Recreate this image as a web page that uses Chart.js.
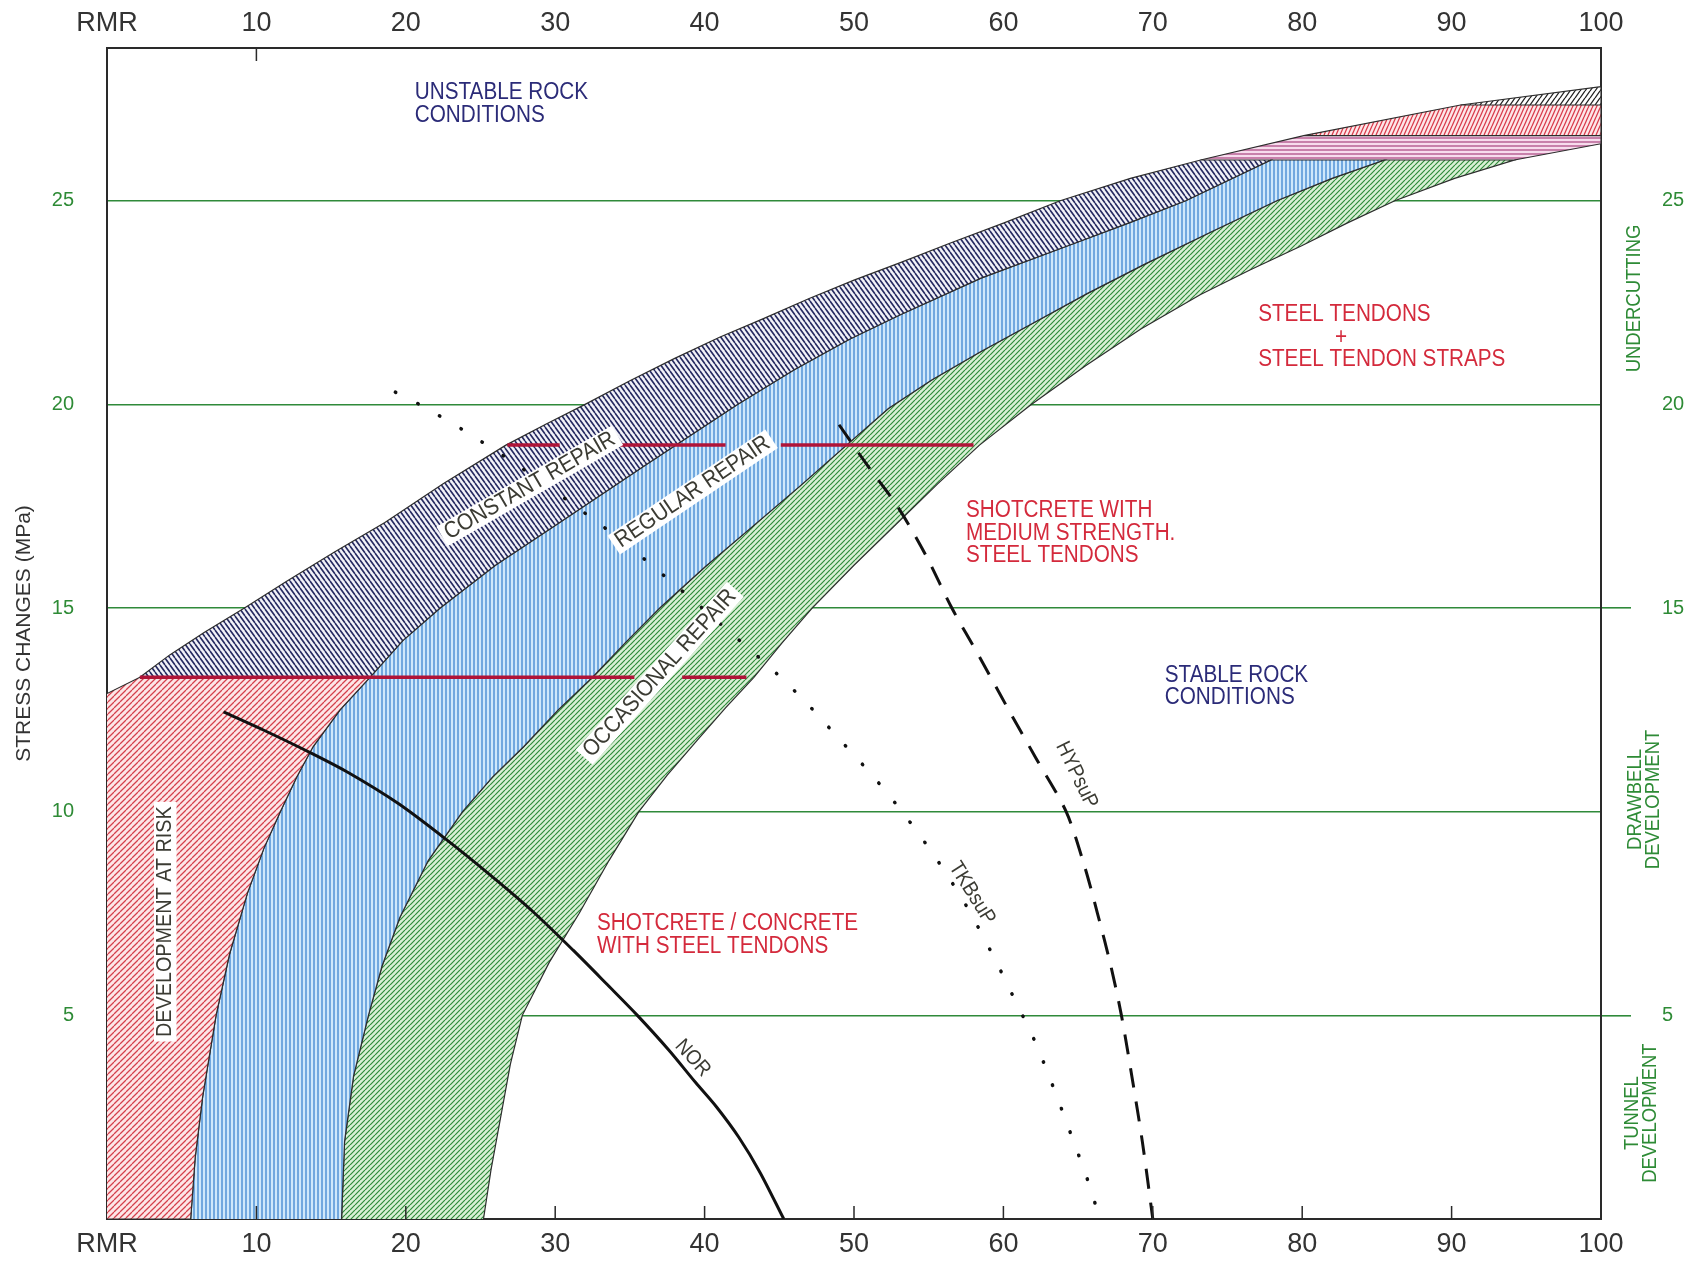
<!DOCTYPE html>
<html>
<head>
<meta charset="utf-8">
<script src="https://cdn.jsdelivr.net/npm/chart.js@4.4.1/dist/chart.umd.min.js"></script>
<style>
  html, body { margin: 0; padding: 0; background: #ffffff; }
  canvas { display: block; }
</style>
</head>
<body>
<canvas id="chart" width="1696" height="1264"></canvas>
<script>
// ---- axes ----
const rmrTicks = [0, 10, 20, 30, 40, 50, 60, 70, 80, 90, 100];
const stressTicks = [5, 10, 15, 20, 25];
const rightStressTicks = [5, 15, 20, 25];
const activityBreaks = [5, 15];
const innerTickRmr = [10, 20, 30, 40, 50, 60, 70, 80, 90];
const topTickRmr = [10];
const stressMax = 28.75;

// ---- zone boundaries [RMR, stress MPa] ----
// upper edge of the constant repair band (plus the cap of the development-at-risk zone)
const constantRepairTop = [[0, 12.9], [2.2, 13.3], [4.2, 13.85], [6.5, 14.4], [9.2, 15.0], [12, 15.65],
  [15.2, 16.37], [18.6, 17.1], [22.5, 18.05], [26.7, 19.0], [29.4, 19.52], [32, 20.0], [35, 20.58],
  [38, 21.13], [41, 21.65], [43.9, 22.1], [47, 22.6], [50, 23.05], [53.1, 23.48], [56.5, 23.97],
  [60, 24.45], [63.8, 25.0], [68.5, 25.55], [73.2, 26.0], [80.1, 26.6], [90.6, 27.35], [100, 27.8]];
// lower edge of constant repair / development at risk, upper edge of regular repair
const regularRepairEdge = [[5.6, 0], [5.9, 1.5], [6.4, 3.0], [7.3, 5.0], [8.2, 6.5], [9.4, 8.0],
  [10.5, 9.1], [11.6, 10.0], [12.7, 10.85], [13.8, 11.6], [15.6, 12.5], [17.6, 13.3], [19.8, 14.2],
  [22.3, 15.0], [26, 16.05], [30.3, 17.1], [36, 18.5], [42.2, 20.0], [46, 20.85], [49.7, 21.6],
  [53.1, 22.2], [58.5, 23.1], [64.5, 23.92], [68.5, 24.47], [72.2, 25.0], [77.9, 26.0]];
// lower edge of regular repair, upper edge of occasional repair
const occasionalRepairEdge = [[15.7, 0], [15.9, 1.9], [16.5, 3.5], [17.5, 5.0], [18.4, 6.2], [19.6, 7.4],
  [21.5, 8.8], [23.8, 10.0], [25.8, 10.85], [27.9, 11.6], [30.2, 12.5], [32.5, 13.3], [34.7, 14.15],
  [37, 15.0], [40, 16.0], [43.2, 17.0], [46.4, 18.0], [49.5, 19.0], [52.3, 19.9], [55.2, 20.6],
  [58.5, 21.3], [62, 22.0], [65.6, 22.72], [69.5, 23.45], [74, 24.25], [78.3, 25.0], [82, 25.55],
  [85.5, 26.0]];
// lower limit of occasional repair (stable ground beyond)
const occasionalRepairLimit = [[25.2, 0], [25.7, 1.2], [26.4, 2.6], [27.0, 3.8], [27.8, 5.0], [29.6, 6.3],
  [31.6, 7.5], [33.6, 8.8], [35.6, 10.0], [37.5, 10.9], [39.5, 11.75], [41.4, 12.55], [43.3, 13.3],
  [45.2, 14.15], [47.2, 15.0], [50, 16.05], [52.8, 17.05], [55.6, 18.05], [58.4, 19.0], [61.8, 19.98],
  [65.5, 20.95], [69.2, 21.85], [73.2, 22.7], [76.5, 23.3], [80, 23.9], [83, 24.45], [86.2, 25.0],
  [90.2, 25.55], [94.2, 26.0], [100, 26.4]];

const lowerSupportLevel = 13.3;
const capLevels = [26.0, 26.6, 27.35];
const rmrMax = 100;

// support class limits (red lines)
const lowerSupportSpans = [[2.2, 35.3], [38.5, 42.8]];
const upperSupportLevel = 19.0;
const upperSupportSpans = [[26.8, 30.3], [34.3, 41.4], [45.1, 58.0]];

// support performance curves
const norCurve = [[7.8, 12.45], [10.5, 12.0], [13.6, 11.45], [16.2, 10.95], [19.5, 10.2], [22.7, 9.32],
  [25.8, 8.4], [28.5, 7.55], [31.2, 6.6], [33.5, 5.75], [35.5, 5.0], [37.6, 4.15], [39.4, 3.35],
  [40.8, 2.75], [42.3, 2.0], [43.7, 1.15], [45.3, 0]];
const tkbCurve = [[19.3, 20.3], [20.9, 20.0], [23.8, 19.38], [27.9, 18.4], [32.1, 17.3], [34.8, 16.55],
  [37.4, 15.76], [41.1, 14.6], [44.8, 13.4], [47, 12.6], [49.1, 11.75], [51.2, 10.9], [53.3, 9.96],
  [55.5, 8.85], [57.5, 7.7], [59.4, 6.4], [60.9, 5.28], [62, 4.45], [63, 3.56], [64.5, 2.1],
  [65.9, 0.68], [66.4, 0]];
const hypCurve = [[49.0, 19.5], [50.9, 18.5], [52.9, 17.5], [54.8, 16.3], [56.55, 15.0], [58.4, 13.8],
  [60.2, 12.6], [62.2, 11.3], [64.2, 10.0], [65.4, 8.7], [66.3, 7.5], [67.2, 6.2], [67.9, 5.0],
  [68.6, 3.5], [69.3, 1.9], [70, 0]];

// ---- colours ----
const AXIS = '#2a2a2a';
const TICK = '#333333';
const GRID = '#2f8a3a';
const GREEN_TXT = '#2e8b36';
const NAVY = '#2b2b78';
const RED_TXT = '#d42a3c';
const DARK = '#3b3b33';
const SUPPORT = '#b01438';
const OUTLINE = '#2d2d2d';

// ---- annotation texts ----
const notes = [
  { text: ['UNSTABLE ROCK', 'CONDITIONS'], x: 20.6, y: 27.65, color: NAVY, align: 'left' },
  { text: ['STEEL TENDONS'], x: 77.05, y: 22.2, color: RED_TXT, align: 'left' },
  { text: ['+'], x: 82.6, y: 21.65, color: RED_TXT },
  { text: ['STEEL TENDON STRAPS'], x: 77.05, y: 21.1, color: RED_TXT, align: 'left' },
  { text: ['SHOTCRETE WITH', 'MEDIUM STRENGTH.', 'STEEL TENDONS'], x: 57.5, y: 17.39, color: RED_TXT, align: 'left' },
  { text: ['STABLE ROCK', 'CONDITIONS'], x: 70.8, y: 13.34, color: NAVY, align: 'left' },
  { text: ['SHOTCRETE / CONCRETE', 'WITH STEEL TENDONS'], x: 32.8, y: 7.24, color: RED_TXT, align: 'left' },
  { text: ['CONSTANT REPAIR'], x: 28.3, y: 18.0, angle: -30, color: DARK, box: true },
  { text: ['REGULAR REPAIR'], x: 39.2, y: 17.85, angle: -34, color: DARK, box: true },
  { text: ['OCCASIONAL REPAIR'], x: 37.0, y: 13.4, angle: -48, color: DARK, box: true },
  { text: ['DEVELOPMENT AT RISK'], x: 3.9, y: 7.3, angle: -90, color: DARK, box: true, size: 22 },
  { text: ['NOR'], x: 39.2, y: 3.95, angle: 48, color: DARK, size: 21 },
  { text: ['TKBsuP'], x: 57.9, y: 8.0, angle: 58, color: DARK, size: 21 },
  { text: ['HYPsuP'], x: 64.9, y: 10.9, angle: 64, color: DARK, size: 21 },
  { text: ['UNDERCUTTING'], x: 102.2, y: 22.6, angle: -90, color: GREEN_TXT, size: 20.5, lineHeight: 18 },
  { text: ['DRAWBELL', 'DEVELOPMENT'], x: 102.9, y: 10.3, angle: -90, color: GREEN_TXT, size: 20.5, lineHeight: 18 },
  { text: ['TUNNEL', 'DEVELOPMENT'], x: 102.7, y: 2.6, angle: -90, color: GREEN_TXT, size: 20.5, lineHeight: 18 }
];

const canvas = document.getElementById('chart');
const ctx2d = canvas.getContext('2d');

// hatch fill tiles
function hatch(bg, fg, w, h, lw, dir) {
  const tile = document.createElement('canvas');
  tile.width = w; tile.height = h;
  const g = tile.getContext('2d');
  g.fillStyle = bg; g.fillRect(0, 0, w, h);
  g.strokeStyle = fg; g.lineWidth = lw;
  g.beginPath();
  if (dir === 'v') { g.moveTo(w / 2, 0); g.lineTo(w / 2, h); }
  else if (dir === 'h') { g.moveTo(0, h / 2); g.lineTo(w, h / 2); }
  else {
    for (const k of [-1, 0, 1]) {
      if (dir === '/') { g.moveTo(k * w, h); g.lineTo(k * w + w, 0); }
      else { g.moveTo(k * w, 0); g.lineTo(k * w + w, h); }
    }
  }
  g.stroke();
  return ctx2d.createPattern(tile, 'repeat');
}

const fills = {
  risk: hatch('#fde6e7', '#d4404c', 6, 6, 1.25, '/'),
  constant: hatch('#f2f2f8', '#262a60', 5, 7, 1.6, '\\'),
  regular: hatch('#cfe8fb', '#3f86d0', 4, 4, 1.3, 'v'),
  occasional: hatch('#d9f0d5', '#2f8a3a', 5, 5, 1.2, '/'),
  strap: hatch('#f7dced', '#a8437f', 4, 4, 1.2, 'h'),
  tendon: hatch('#fde6e8', '#d83b4b', 4, 9, 1.3, '/'),
  top: hatch('#ffffff', '#222222', 5, 7, 1.3, '/')
};

const pt = ([x, y]) => ({ x, y });
const within = (curve, y0, y1) => curve.filter(([, y]) => y >= y0 && y <= y1).map(pt);
const reversed = a => a.slice().reverse();
const [capA, capB, capC] = capLevels;

const riskZone = [{ x: 0, y: 0 }, ...within(regularRepairEdge, 0, lowerSupportLevel),
  ...reversed(within(constantRepairTop, 0, lowerSupportLevel))];
const constantZone = [...within(constantRepairTop, lowerSupportLevel, capA),
  ...reversed(within(regularRepairEdge, lowerSupportLevel, capA))];
const regularZone = [...regularRepairEdge.map(pt), ...reversed(occasionalRepairEdge.map(pt))];
const occasionalZone = [...occasionalRepairEdge.map(pt), ...reversed(within(occasionalRepairLimit, 0, capA))];
const strapZone = [...within(constantRepairTop, capA, capB), { x: rmrMax, y: capB },
  ...reversed(within(occasionalRepairLimit, capA, capB))];
const tendonZone = [...within(constantRepairTop, capB, capC), { x: rmrMax, y: capC }, { x: rmrMax, y: capB }];
const topZone = [...within(constantRepairTop, capC, 99), { x: rmrMax, y: capC }];

const zone = (label, data, pattern) => ({
  label, data, backgroundColor: pattern, borderColor: OUTLINE, borderWidth: 1.2,
  fill: 'shape', order: 10
});
const supportLine = (label, level, [a, b]) => ({
  label, data: [{ x: a, y: level }, { x: b, y: level }],
  borderColor: SUPPORT, borderWidth: 3.5, fill: false, order: 2, borderCapStyle: 'butt'
});

const datasets = [
  zone('Development at risk', riskZone, fills.risk),
  zone('Constant repair', constantZone, fills.constant),
  zone('Regular repair', regularZone, fills.regular),
  zone('Occasional repair', occasionalZone, fills.occasional),
  zone('Steel tendon straps', strapZone, fills.strap),
  zone('Steel tendons', tendonZone, fills.tendon),
  zone('Unstable cap', topZone, fills.top),
  ...lowerSupportSpans.map(s => supportLine('Lower support limit', lowerSupportLevel, s)),
  ...upperSupportSpans.map(s => supportLine('Upper support limit', upperSupportLevel, s)),
  { label: 'NOR', data: norCurve.map(pt), borderColor: '#111', borderWidth: 3, fill: false, order: 1,
    tension: 0.3 },
  { label: 'TKBsuP', data: tkbCurve.map(pt), borderColor: '#111', borderWidth: 3.5, fill: false, order: 1,
    tension: 0.3, borderDash: [0.5, 24.5], borderCapStyle: 'round' },
  { label: 'HYPsuP', data: hypCurve.map(pt), borderColor: '#111', borderWidth: 3, fill: false, order: 1,
    tension: 0.3, borderDash: [20, 14], borderCapStyle: 'butt' }
];

// text labels placed in data space
const textLayer = {
  id: 'textLayer',
  afterDraw(chart) {
    const { ctx, scales: { x, y } } = chart;
    for (const n of notes) {
      const px = x.getPixelForValue(n.x);
      const py = y.getPixelForValue(n.y);
      const size = n.size || 23;
      const lh = n.lineHeight || 22.5;
      const align = n.align || 'center';
      ctx.save();
      ctx.translate(px, py);
      ctx.rotate((n.angle || 0) * Math.PI / 180);
      ctx.scale(n.squeeze || 0.9, 1);
      ctx.font = size + 'px "Liberation Sans", Arial, sans-serif';
      ctx.textBaseline = 'middle';
      ctx.textAlign = align;
      const startY = align === 'left' ? 0 : -(n.text.length - 1) * lh / 2;
      if (n.box) {
        const w = Math.max(...n.text.map(t => ctx.measureText(t).width));
        const bx = align === 'left' ? -5 : -w / 2 - 5;
        ctx.fillStyle = '#ffffff';
        ctx.fillRect(bx, startY - lh / 2, w + 10, n.text.length * lh);
      }
      ctx.fillStyle = n.color;
      n.text.forEach((t, i) => ctx.fillText(t, 0, startY + i * lh));
      ctx.restore();
    }
  }
};

// short tick marks pointing into the plot
const innerTicks = {
  id: 'innerTicks',
  afterDraw(chart) {
    const { ctx, chartArea: a, scales: { x } } = chart;
    ctx.save();
    ctx.strokeStyle = AXIS;
    ctx.lineWidth = 1.5;
    ctx.beginPath();
    for (const v of innerTickRmr) {
      const px = x.getPixelForValue(v);
      ctx.moveTo(px, a.bottom); ctx.lineTo(px, a.bottom - 13);
    }
    for (const v of topTickRmr) {
      const px = x.getPixelForValue(v);
      ctx.moveTo(px, a.top); ctx.lineTo(px, a.top + 13);
    }
    ctx.stroke();
    ctx.restore();
  }
};

Chart.defaults.font.family = '"Liberation Sans", Arial, sans-serif';

const rmrAxis = (position, height, padding) => ({
  type: 'linear', position, min: 0, max: rmrMax,
  afterBuildTicks: s => { s.ticks = rmrTicks.map(v => ({ value: v })); },
  afterFit: s => { s.height = height; },
  grid: { display: true, drawOnChartArea: false, drawTicks: false },
  border: { display: true, color: AXIS, width: 2 },
  ticks: { color: TICK, font: { size: 27 }, padding, maxRotation: 0, autoSkip: false,
    callback: v => (v === 0 ? 'RMR' : String(v)) },
  z: 1
});

new Chart(canvas, {
  type: 'scatter',
  data: { datasets },
  options: {
    responsive: false,
    devicePixelRatio: 1,
    animation: false,
    events: [],
    layout: { padding: 0 },
    datasets: { scatter: { showLine: true, pointRadius: 0, pointHoverRadius: 0 } },
    plugins: { legend: { display: false }, tooltip: { enabled: false } },
    scales: {
      x: rmrAxis('bottom', 37, 9),
      x2: rmrAxis('top', 48, 8),
      y: {
        type: 'linear', position: 'left', min: 0, max: stressMax,
        afterBuildTicks: s => { s.ticks = stressTicks.map(v => ({ value: v })); },
        afterFit: s => { s.width = 107; },
        grid: { color: GRID, lineWidth: 1.6, drawTicks: false },
        border: { display: true, color: AXIS, width: 2 },
        ticks: { color: GREEN_TXT, font: { size: 20 }, padding: 33 },
        title: { display: true, text: 'STRESS CHANGES (MPa)', color: TICK, font: { size: 21 },
          padding: { top: 12, bottom: 0 } },
        z: 1
      },
      y2: {
        type: 'linear', position: 'right', min: 0, max: stressMax,
        afterBuildTicks: s => { s.ticks = rightStressTicks.map(v => ({ value: v })); },
        afterFit: s => { s.width = 95; },
        grid: { drawOnChartArea: false, drawTicks: true, tickLength: 30, lineWidth: 1.6,
          tickColor: c => (c.tick && activityBreaks.includes(c.tick.value) ? GRID : 'rgba(0,0,0,0)') },
        border: { display: true, color: AXIS, width: 2 },
        ticks: { color: GREEN_TXT, font: { size: 20 }, padding: 31 },
        z: 1
      }
    }
  },
  plugins: [textLayer, innerTicks]
});
</script>
</body>
</html>
